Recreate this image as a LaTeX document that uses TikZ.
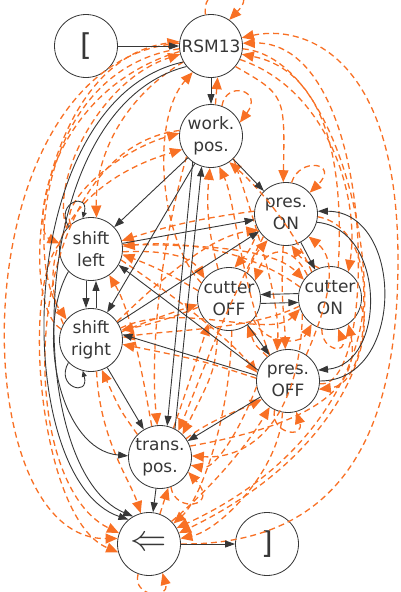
\documentclass[tikz,border=0pt]{standalone}
\usepackage{fontspec}
\usepackage{graphicx}
\setmainfont{DejaVu Sans}
\usetikzlibrary{arrows.meta}
\definecolor{orng}{RGB}{248,112,36}
\definecolor{ink}{RGB}{55,55,55}
\tikzset{
  st/.style={circle, draw=ink, line width=0.8pt, minimum size=63pt, inner sep=0pt,
    font=\fontsize{17}{22}\selectfont, align=center, text=ink, fill=white},
  blk/.style={draw=ink, line width=0.9pt, -{Triangle[length=10pt,width=7pt]}},
  blkl/.style={draw=ink, line width=0.9pt, -{Triangle[length=6pt,width=5pt]}},
  org/.style={draw=orng, line width=1.3pt, dash pattern=on 6pt off 4pt,
    -{Triangle[length=12pt,width=10pt]}},
}
\begin{document}
\begin{tikzpicture}[x=1pt,y=-1pt]
\useasboundingbox (0,0) rectangle (401,592);
% nodes
\node[st] (L) at (86,46) {\fontsize{30}{30}\selectfont [};
\node[st] (R) at (211,46) {RSM13};
\node[st] (W) at (211,136) {work.\\pos.};
\node[st] (PON) at (286,214) {pres.\\ON};
\node[st] (SL) at (91,249) {shift\\left};
\node[st] (COFF) at (229,299) {cutter\\OFF};
\node[st] (CON) at (330,298) {cutter\\ON};
\node[st] (SR) at (91,340) {shift\\right};
\node[st] (POFF) at (288,381) {pres.\\OFF};
\node[st] (T) at (160,457) {trans.\\pos.};
\node[st] (E) at (149,544) {\scalebox{2.1}{$\Leftarrow$}};
\node[st] (X) at (267,544) {\fontsize{30}{30}\selectfont ]};

% ---------------- orange dashed transitions ----------------
% into RSM13
\draw[org] (R.100) .. controls (200,-22) and (264,-16) .. (R.55);
\draw[org] (W.82) -- (R.-78);
\draw[org] (CON.75) .. controls (345,150) and (320,70) .. (R.-15);
\draw[org] (POFF.-5) .. controls (380,390) and (378,40) .. (R.5);
\draw[org] (E.0) .. controls (330,545) and (398,450) .. (398,260) .. controls (398,50) and (300,25) .. (R.15);
\draw[org] (SR.160) .. controls (15,300) and (40,60) .. (R.172);
\draw[org] (SL.140) .. controls (50,180) and (100,80) .. (R.195);
\draw[org] (COFF.150) .. controls (160,240) and (150,120) .. (R.-125);
% into work pos
\draw[org] (SL.130) .. controls (60,200) and (120,150) .. (W.175);
\draw[org] (SR.150) .. controls (30,250) and (80,180) .. (W.-155);
\draw[org] (COFF.110) to[bend left=10] (W.-92);
\draw[org] (POFF.125) .. controls (240,280) and (235,200) .. (W.-75);
\draw[org] (CON.125) .. controls (290,220) and (250,180) .. (W.-55);
\draw[org] (W.70) .. controls (226,80) and (264,90) .. (W.25);
% into pres ON
\draw[org] (R.-40) .. controls (285,95) .. (PON.95);
\draw[org] (PON.80) .. controls (300,156) and (340,163) .. (PON.42);
\draw[org] (COFF.55) to[bend left=10] (PON.-125);
\draw[org] (CON.110) to[bend left=15] (PON.-80);
\draw[org] (POFF.55) .. controls (330,300) and (338,260) .. (PON.-45);
\draw[org] (SR.35) .. controls (180,260) and (220,235) .. (PON.-150);
% into shift left
\draw[org] (PON.175) to[bend right=5] (SL.15);
\draw[org] (R.-150) .. controls (120,100) and (95,160) .. (SL.80);
\draw[org] (R.190) .. controls (50,90) and (30,230) .. (SL.170);
\draw[org] (COFF.165) to[bend right=5] (SL.-10);
\draw[org] (CON.160) .. controls (250,250) and (180,240) .. (SL.5);
\draw[org] (T.105) .. controls (140,360) and (130,310) .. (SL.-55);
% into shift right
\draw[org] (R.185) .. controls (40,70) and (25,260) .. (SR.140);
\draw[org] (COFF.195) to[bend left=5] (SR.18);
\draw[org] (CON.195) .. controls (250,330) and (170,330) .. (SR.5);
\draw[org] (POFF.175) .. controls (200,360) .. (SR.-8);
\draw[org] (T.135) .. controls (120,410) .. (SR.-70);
% into cutter OFF
\draw[org] (SL.-5) .. controls (160,250) and (190,255) .. (COFF.140);
\draw[org] (PON.-150) .. controls (250,250) .. (COFF.80);
\draw[org] (CON.135) .. controls (290,240) and (265,250) .. (COFF.35);
\draw[org] (SR.15) .. controls (150,320) and (180,310) .. (COFF.190);
\draw[org] (T.65) .. controls (190,380) and (200,350) .. (COFF.-130);
\draw[org] (POFF.130) .. controls (255,345) .. (COFF.-55);
% into cutter ON
\draw[org] (SL.8) .. controls (180,245) and (270,245) .. (CON.145);
\draw[org] (R.-25) .. controls (330,90) and (360,200) .. (CON.55);
\draw[org] (SR.22) .. controls (180,300) and (270,340) .. (CON.-160);
\draw[org] (COFF.-40) .. controls (265,345) and (300,345) .. (CON.-125);
\draw[org] (CON.-105) .. controls (322,352) and (348,354) .. (CON.-75);
\draw[org] (T.20) .. controls (280,430) and (365,400) .. (CON.-55);
% into pres OFF
\draw[org] (PON.-95) .. controls (280,300) and (285,320) .. (POFF.95);
\draw[org] (W.-45) .. controls (258,232) and (280,300) .. (POFF.110);
\draw[org] (POFF.-115) .. controls (270,434) and (305,439) .. (POFF.-75);
\draw[org] (T.35) .. controls (210,420) and (240,410) .. (POFF.-145);
\draw[org] (E.45) .. controls (220,480) and (250,440) .. (POFF.-125);
\draw[org] (R.-5) .. controls (360,60) and (400,380) .. (POFF.-15);
\draw[org] (SL.-20) .. controls (180,300) and (230,340) .. (POFF.165);
% into trans pos
\draw[org] (W.-140) .. controls (160,250) and (150,350) .. (T.95);
\draw[org] (PON.-135) .. controls (220,320) and (200,380) .. (T.55);
\draw[org] (COFF.-110) .. controls (215,370) .. (T.45);
\draw[org] (CON.-150) .. controls (300,420) and (250,460) .. (T.2);
\draw[org] (POFF.-170) .. controls (240,430) and (215,470) .. (T.-15);
\draw[org] (E.70) -- (T.-75);
\draw[org] (T.-70) .. controls (175,514) and (220,507) .. (T.-28);
% into <=
\draw[org] (R.175) .. controls (-40,60) and (-40,540) .. (E.170);
\draw[org] (SL.170) .. controls (20,290) and (40,520) .. (E.195);
\draw[org] (W.170) .. controls (20,150) and (10,480) .. (E.160);
\draw[org] (SR.-80) .. controls (100,440) and (130,480) .. (E.105);
\draw[org] (PON.-5) .. controls (395,230) and (390,430) .. (E.30);
\draw[org] (CON.-15) .. controls (375,330) and (350,450) .. (E.20);
\draw[org] (COFF.-85) .. controls (230,420) and (200,500) .. (E.40);
\draw[org] (POFF.-100) .. controls (280,470) and (220,530) .. (E.10);
\draw[org] (E.-110) .. controls (132,597) and (170,600) .. (E.-65);

% ---------------- black transitions ----------------
\draw[blk] (L) -- (R);
\draw[blk] (R) -- (W);
\draw[blk] (W) -- (PON);
\draw[blk] (W) -- (SL);
\draw[blk] (W) -- (SR);
\draw[blk] (W.-125) -- (T.77);
\draw[blk] (T.62) -- (W.-107);
\draw[blk] (SL) -- (PON);
\draw[blk] (SR) -- (PON);
\draw[blk] ([xshift=-5pt]SL.south) -- ([xshift=-5pt]SR.north);
\draw[blk] ([xshift=5pt]SR.north) -- ([xshift=5pt]SL.south);
\draw[blkl] (SL.135) .. controls +(-120:28) and +(-75:28) .. (SL.105);
\draw[blkl] (SR.-135) .. controls +(120:28) and +(75:28) .. (SR.-105);
\draw[blk] (PON) -- (CON);
\draw[blk] (CON.172) -- (COFF.8);
\draw[blk] (COFF.-8) -- (CON.-172);
\draw[blk] (COFF) -- (POFF);
\draw[blk] (PON.-15) to[out=-5,in=5,looseness=1.2] (POFF.20);
\draw[blk] (POFF.0) to[out=0,in=0,looseness=1.3] (PON.5);
\draw[blk] (POFF.170) -- (SR.10);
\draw[blk] (POFF.160) -- (SL.-30);
\draw[blk] (POFF.-150) -- (T.30);
\draw[blk] (SR) -- (T);
\draw[blk] (SL.-135) .. controls (35,330) and (60,450) .. (T.178);
\draw[blk] (R.-150) .. controls (10,100) and (10,480) .. (E.130);
\draw[blk] (R.-140) .. controls (22,108) and (22,470) .. (E.120);
\draw[blk] (T) -- (E);
\draw[blk] (E) -- (X);
\end{tikzpicture}
\end{document}
